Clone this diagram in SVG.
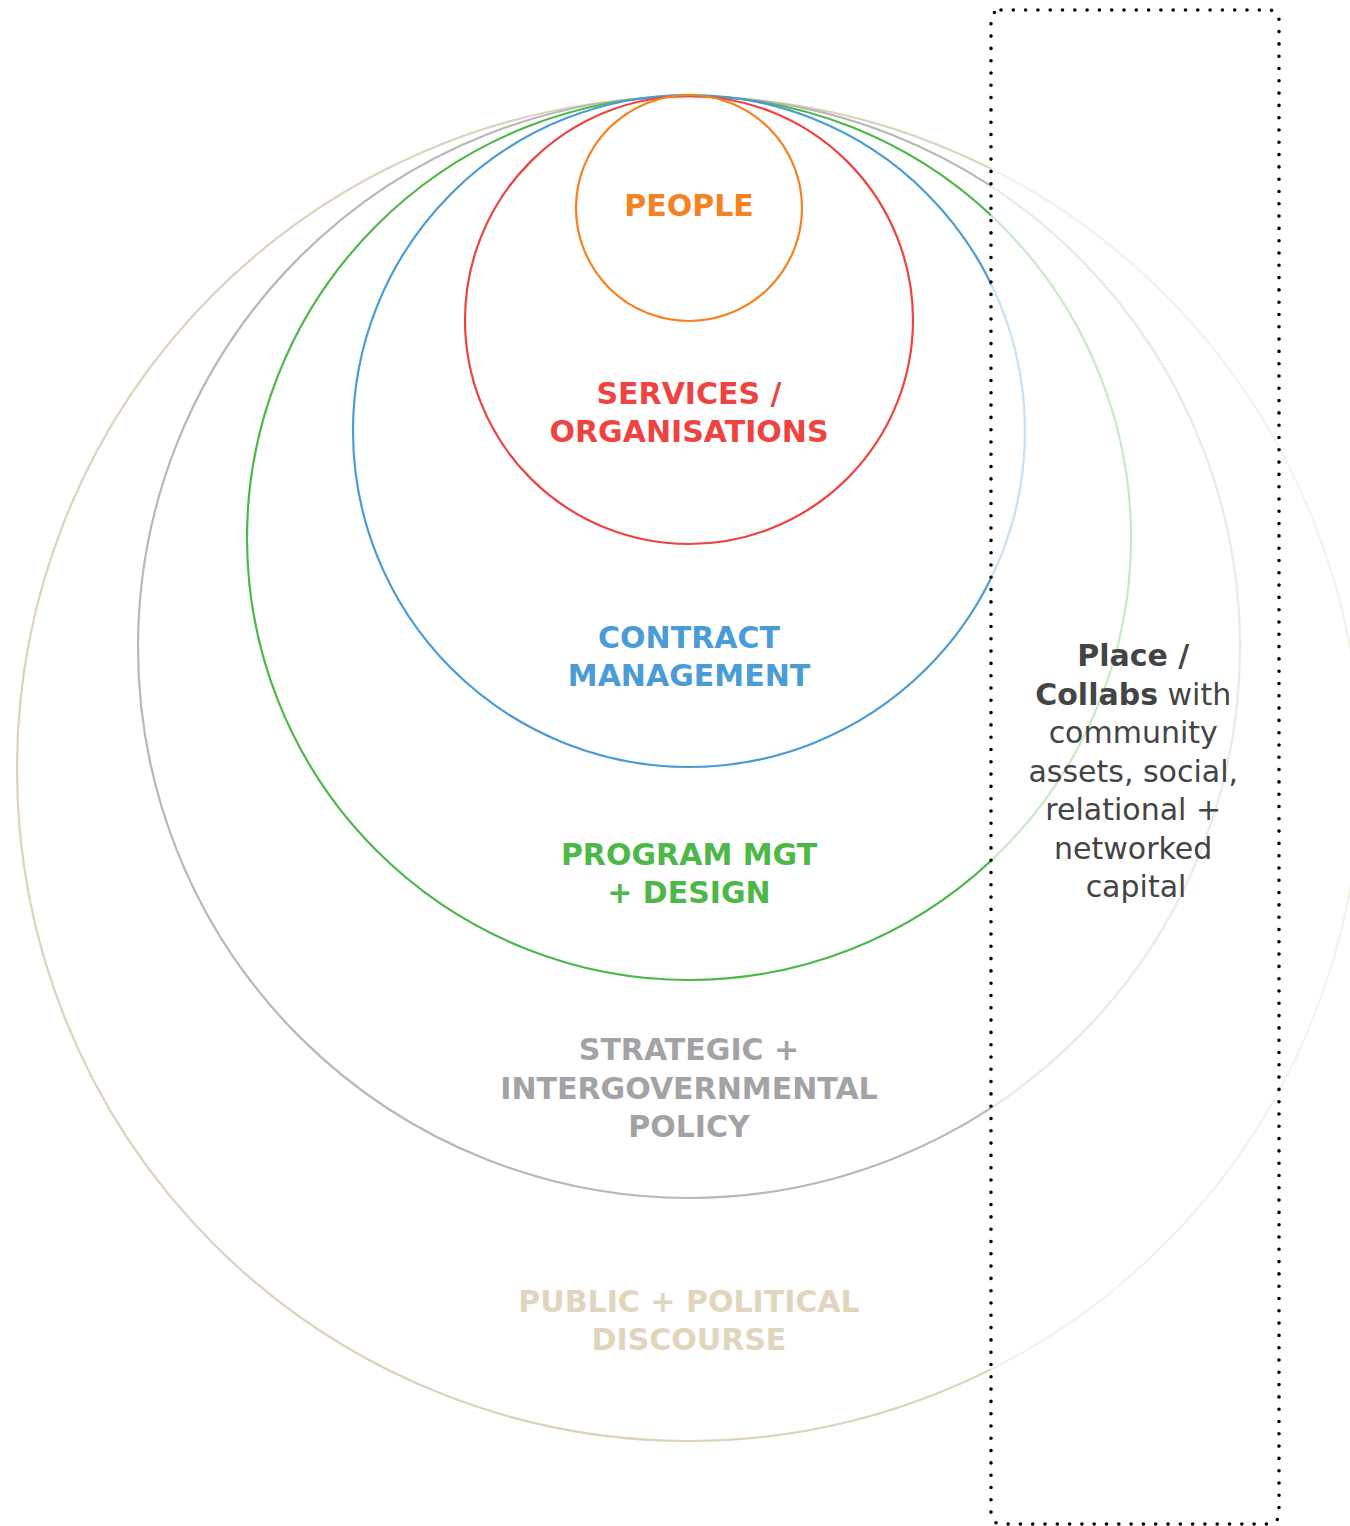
<svg xmlns="http://www.w3.org/2000/svg" width="1350" height="1526" viewBox="0 0 1350 1526">
  <style>
    .ring { fill: none; stroke-width: 2.2; }
    .lbl { font-family: "DejaVu Sans", "Liberation Sans", sans-serif; font-weight: bold; font-size: 30px; text-anchor: middle; }
    .side { font-family: "DejaVu Sans", "Liberation Sans", sans-serif; font-size: 30px; text-anchor: middle; fill: #444444; }
    .side .b { font-weight: bold; }
  </style>
  <defs>
    <clipPath id="leftSide"><rect x="0" y="0" width="991" height="1526"/></clipPath>
    <clipPath id="rightSide"><rect x="991" y="0" width="359" height="1526"/></clipPath>
    <!-- nested rings, all touching at the top point (689, 95) -->
    <g id="rings">
      <circle class="ring" cx="689" cy="769" r="672" stroke="#DDD2BC"/>
      <circle class="ring" cx="689" cy="647" r="551" stroke="#B8B8BA"/>
      <circle class="ring" cx="689" cy="538" r="442" stroke="#4DB848"/>
      <circle class="ring" cx="689" cy="431" r="336" stroke="#4A9BD6"/>
      <circle class="ring" cx="689" cy="320" r="224" stroke="#EE4341"/>
      <circle class="ring" cx="689" cy="208" r="113" stroke="#F5821F"/>
    </g>
  </defs>

  <rect width="1350" height="1526" fill="#ffffff"/>

  <!-- rings: full strength on the left, faded inside the place band -->
  <g id="layers">
    <use href="#rings" clip-path="url(#leftSide)"/>
    <use href="#rings" clip-path="url(#rightSide)" opacity="0.3"/>
  </g>

  <g id="people"><text class="lbl" x="689" y="216" fill="#F5821F">PEOPLE</text></g>
  <g id="services">
    <text class="lbl" x="689" y="404" fill="#EE4341">SERVICES /</text>
    <text class="lbl" x="689" y="442" fill="#EE4341">ORGANISATIONS</text>
  </g>
  <g id="contract">
    <text class="lbl" x="689" y="648" fill="#4A9BD6">CONTRACT</text>
    <text class="lbl" x="689" y="686" fill="#4A9BD6">MANAGEMENT</text>
  </g>
  <g id="program">
    <text class="lbl" x="689" y="865" fill="#4DB848">PROGRAM MGT</text>
    <text class="lbl" x="689" y="903" fill="#4DB848">+ DESIGN</text>
  </g>
  <g id="strategic">
    <text class="lbl" x="689" y="1060" fill="#A3A3A5">STRATEGIC +</text>
    <text class="lbl" x="689" y="1099" fill="#A3A3A5">INTERGOVERNMENTAL</text>
    <text class="lbl" x="689" y="1137" fill="#A3A3A5">POLICY</text>
  </g>
  <g id="public">
    <text class="lbl" x="689" y="1312" fill="#E0D6BE">PUBLIC + POLITICAL</text>
    <text class="lbl" x="689" y="1350" fill="#E0D6BE">DISCOURSE</text>
  </g>

  <!-- dotted place band -->
  <g id="place">
    <rect x="991" y="10" width="288" height="1514" rx="10" ry="10" fill="none" stroke="#000000" stroke-width="3.6" stroke-linecap="round" stroke-dasharray="0 12.3"/>
    <text class="side">
      <tspan class="b" x="1138" y="666">Place /</tspan>
      <tspan class="b" x="1138" y="704.5">Collabs</tspan><tspan> with</tspan>
      <tspan x="1138" y="743">community</tspan>
      <tspan x="1138" y="781.5">assets, social,</tspan>
      <tspan x="1138" y="820">relational +</tspan>
      <tspan x="1138" y="858.5">networked</tspan>
      <tspan x="1136" y="897">capital</tspan>
    </text>
  </g>
</svg>
